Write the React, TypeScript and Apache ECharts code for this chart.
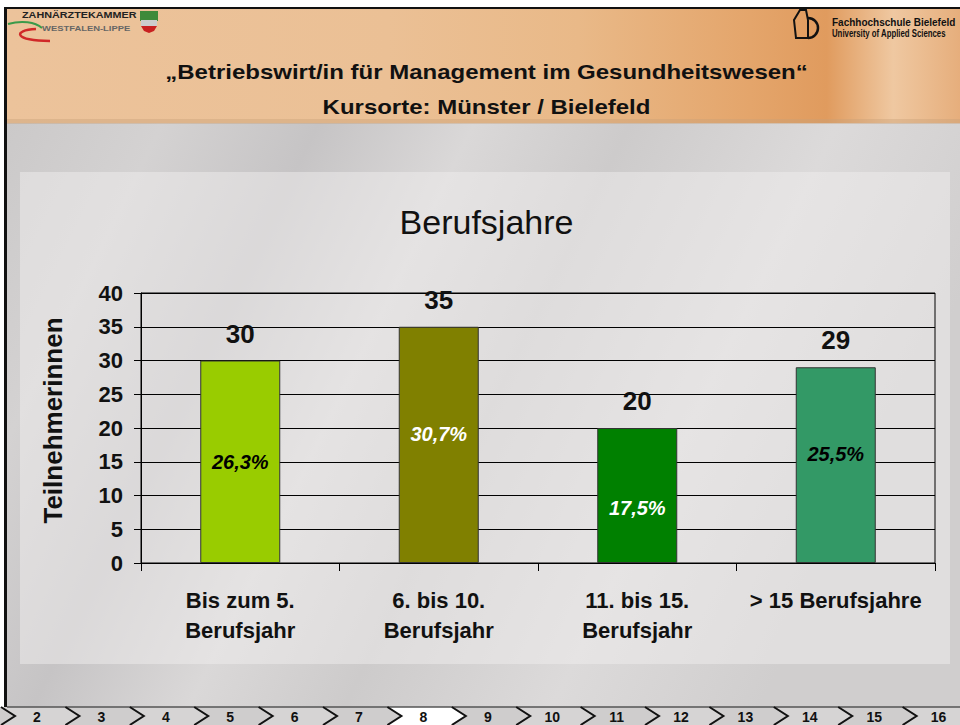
import React, { useEffect, useRef } from "react";
import * as echarts from "echarts";

const categories = ["Bis zum 5.\nBerufsjahr", "6. bis 10.\nBerufsjahr", "11. bis 15.\nBerufsjahr", "> 15 Berufsjahre"];
const counts = [30, 35, 20, 29];
const percentLabels = ["26,3%", "30,7%", "17,5%", "25,5%"];
const navNumbers = ["2", "3", "4", "5", "6", "7", "8", "9", "10", "11", "12", "13", "14", "15", "16"];
const currentPage = "8";
const headerLine1 = "\u201EBetriebswirt/in f\u00FCr Management im Gesundheitswesen\u201C";
const headerLine2 = "Kursorte: M\u00FCnster / Bielefeld";
const chartTitle = "Berufsjahre";
const yAxisTitle = "Teilnehmerinnen";

const barColors = ["#99CC00", "#808000", "#008000", "#339966"];
const pctColors = ["#000000", "#ffffff", "#ffffff", "#000000"];
const pctOffsets = [0, -11, 12, -11];

const FONT = "'Liberation Sans', Arial, sans-serif";
const NARROW = "'Liberation Sans Narrow', 'Arial Narrow', 'Liberation Sans', Arial, sans-serif";

function buildGraphics(): any[] {
  const g: any[] = [];
  g.push({ type: "rect", z: -20, shape: { x: 0, y: 0, width: 960, height: 725 }, style: { fill: "#ffffff" } });
  // gray background
  g.push({
    type: "rect", z: -19, shape: { x: 7, y: 123, width: 953, height: 584 },
    style: {
      fill: new echarts.graphic.LinearGradient(0, 0, 1, 0.3, [
        { offset: 0, color: "#CBC9C9" },
        { offset: 0.15, color: "#D4D2D2" },
        { offset: 0.3, color: "#C6C4C5" },
        { offset: 0.45, color: "#DAD8D8" },
        { offset: 0.6, color: "#CDCBCB" },
        { offset: 0.8, color: "#DCDADA" },
        { offset: 1, color: "#D0CECE" },
      ]),
    },
  });
  // lighter chart panel
  g.push({
    type: "rect", z: -18, shape: { x: 20, y: 172, width: 930, height: 492 },
    style: { fill: "rgba(240,238,238,0.5)" },
  });
  // header band
  g.push({
    type: "rect", z: -17, shape: { x: 7, y: 9, width: 953, height: 114 },
    style: {
      fill: new echarts.graphic.LinearGradient(0, 0, 1, 0, [
        { offset: 0, color: "#ECC39B" },
        { offset: 0.4, color: "#EBC095" },
        { offset: 0.6, color: "#E9B988" },
        { offset: 0.78, color: "#E4A56B" },
        { offset: 0.86, color: "#E09B5E" },
        { offset: 0.93, color: "#EFC8A1" },
        { offset: 1, color: "#E6AE7C" },
      ]),
    },
  });
  g.push({ type: "rect", z: -16, shape: { x: 7, y: 119, width: 953, height: 5 }, style: { fill: "rgba(200,160,120,0.4)" } });
  // borders
  g.push({ type: "rect", z: 5, shape: { x: 4, y: 7, width: 956, height: 2 }, style: { fill: "#111111" } });
  g.push({ type: "rect", z: 5, shape: { x: 4, y: 7, width: 3, height: 718 }, style: { fill: "#111111" } });

  // header texts
  g.push({
    type: "text", z: 10, x: 486.5, y: 72, scaleX: 1.2,
    style: { text: headerLine1, x: 0, y: 0, align: "center", verticalAlign: "middle", fill: "#111", fontFamily: FONT, fontWeight: "bold", fontSize: 20 },
  });
  g.push({
    type: "text", z: 10, x: 486.5, y: 107, scaleX: 1.2,
    style: { text: headerLine2, x: 0, y: 0, align: "center", verticalAlign: "middle", fill: "#111", fontFamily: FONT, fontWeight: "bold", fontSize: 20 },
  });

  // left logo
  g.push({
    type: "text", z: 10, x: 22, y: 15, scaleX: 1.2,
    style: { text: "ZAHN\u00C4RZTEKAMMER", x: 0, y: 0, align: "left", verticalAlign: "middle", fill: "#222", fontFamily: FONT, fontWeight: "bold", fontSize: 9 },
  });
  g.push({
    type: "text", z: 10, x: 42, y: 29, scaleX: 1.45,
    style: { text: "WESTFALEN-LIPPE", x: 0, y: 0, align: "left", verticalAlign: "middle", fill: "#666", fontFamily: FONT, fontWeight: "bold", fontSize: 6.5 },
  });
  g.push({ type: "bezierCurve", z: 10, shape: { x1: 8, y1: 24, x2: 42, y2: 28, cpx1: 22, cpy1: 20, cpx2: 35, cpy2: 22 }, style: { stroke: "#3a9a4a", lineWidth: 2, fill: "none" } });
  g.push({ type: "bezierCurve", z: 10, shape: { x1: 36, y1: 29, x2: 50, y2: 41, cpx1: 12, cpy1: 30, cpx2: 14, cpy2: 41 }, style: { stroke: "#d02828", lineWidth: 2.5, fill: "none" } });
  g.push({ type: "rect", z: 10, shape: { x: 140, y: 11, width: 18, height: 10 }, style: { fill: "#3d8a3a" } });
  g.push({ type: "rect", z: 10, shape: { x: 141, y: 20, width: 16, height: 6 }, style: { fill: "#cccccc" } });
  g.push({ type: "polygon", z: 10, shape: { points: [[141, 26], [157, 26], [154, 31], [149, 33], [144, 31]] }, style: { fill: "#c82020" } });

  // right logo
  g.push({ type: "polyline", z: 10, shape: { points: [[800, 38], [796, 38], [794, 20], [800, 10], [806, 10], [808, 20]] }, style: { stroke: "#111", lineWidth: 2, fill: "none" } });
  g.push({ type: "arc", z: 10, shape: { cx: 808, cy: 28, r: 10, startAngle: -Math.PI / 2, endAngle: Math.PI / 2 }, style: { stroke: "#111", lineWidth: 2.5, fill: "none" } });
  g.push({ type: "line", z: 10, shape: { x1: 808, y1: 20, x2: 808, y2: 38 }, style: { stroke: "#111", lineWidth: 2 } });
  g.push({ type: "line", z: 10, shape: { x1: 800, y1: 38, x2: 808, y2: 38 }, style: { stroke: "#111", lineWidth: 2 } });
  g.push({
    type: "text", z: 10, x: 832, y: 22,
    style: { text: "Fachhochschule Bielefeld", x: 0, y: 0, align: "left", verticalAlign: "middle", fill: "#111", fontFamily: FONT, fontWeight: "bold", fontSize: 10 },
  });
  g.push({
    type: "text", z: 10, x: 832, y: 34, scaleX: 0.78,
    style: { text: "University of Applied Sciences", x: 0, y: 0, align: "left", verticalAlign: "middle", fill: "#111", fontFamily: FONT, fontWeight: "bold", fontSize: 10 },
  });

  // chart title
  g.push({
    type: "text", z: 10, x: 486.5, y: 222,
    style: { text: chartTitle, x: 0, y: 0, align: "center", verticalAlign: "middle", fill: "#111", fontFamily: FONT, fontSize: 34 },
  });
  // y axis title
  g.push({
    type: "text", z: 10, x: 53, y: 420.5, rotation: Math.PI / 2,
    style: { text: yAxisTitle, x: 0, y: 0, align: "center", verticalAlign: "middle", fill: "#111", fontFamily: FONT, fontWeight: "bold", fontSize: 26 },
  });

  // bottom navigation strip
  const step = 64.4;
  const tip0 = 15;
  g.push({ type: "rect", z: 4, shape: { x: 7, y: 707, width: 953, height: 18 }, style: { fill: "#D3D1D1" } });
  for (let k = -1; k < navNumbers.length; k++) {
    const a = tip0 + step * k;
    const b = tip0 + step * (k + 1);
    const isCur = k >= 0 && navNumbers[k] === currentPage;
    g.push({
      type: "polygon", z: 5,
      shape: { points: [[a - 14, 707], [a, 716], [a - 14, 725], [b - 14, 725], [b, 716], [b - 14, 707]] },
      style: { fill: isCur ? "#ffffff" : (k % 2 === 0 ? "#D6D4D4" : "#CFCDCD") },
    });
  }
  g.push({ type: "line", z: 6, shape: { x1: 7, y1: 707, x2: 960, y2: 707 }, style: { stroke: "#555", lineWidth: 1.5 } });
  for (let k = 0; k < navNumbers.length; k++) {
    const t = tip0 + step * k;
    g.push({ type: "polyline", z: 7, shape: { points: [[t - 14, 707], [t, 716], [t - 14, 725]] }, style: { stroke: "#111", lineWidth: 2, fill: "none" } });
    g.push({
      type: "text", z: 8, x: 37 + step * k, y: 717,
      style: { text: navNumbers[k], x: 0, y: 0, align: "center", verticalAlign: "middle", fill: "#111", fontFamily: FONT, fontWeight: "bold", fontSize: 14 },
    });
  }
  return g;
}

export default function App() {
  const ref = useRef<HTMLDivElement>(null);
  useEffect(() => {
    if (!ref.current) return;
    const chart = echarts.init(ref.current, null, { renderer: "svg" });
    const option: any = {
      animation: false,
      backgroundColor: "transparent",
      graphic: { elements: buildGraphics() },
      grid: { left: 141, right: 25, top: 293, bottom: 162, show: true, borderColor: "#000", borderWidth: 1, backgroundColor: "transparent", z: 1 },
      xAxis: {
        type: "category",
        data: categories,
        axisLine: { lineStyle: { color: "#000", width: 1 } },
        axisTick: { show: true, length: 8, alignWithLabel: false, interval: 0, lineStyle: { color: "#000" } },
        axisLabel: { interval: 0, margin: 22, color: "#111", fontFamily: FONT, fontWeight: "bold", fontSize: 22, lineHeight: 30 },
        splitLine: { show: false },
      },
      yAxis: {
        type: "value",
        min: 0,
        max: 40,
        interval: 5,
        axisLine: { show: true, lineStyle: { color: "#000", width: 1 } },
        axisTick: { show: true, length: 7, lineStyle: { color: "#000" } },
        axisLabel: { margin: 18, color: "#111", fontFamily: FONT, fontWeight: "bold", fontSize: 22 },
        splitLine: { show: true, lineStyle: { color: "#000", width: 1 } },
      },
      series: [
        {
          type: "bar",
          barWidth: 80,
          z: 3,
          data: counts.map((v, i) => ({
            value: v,
            itemStyle: { color: barColors[i], borderColor: "#333", borderWidth: 1 },
            label: {
              show: true,
              position: "inside",
              offset: [0, pctOffsets[i]],
              formatter: () => percentLabels[i],
              color: pctColors[i],
              fontFamily: NARROW,
              fontStyle: "italic",
              fontWeight: "bold",
              fontSize: 20,
            },
          })),
        },
        {
          type: "bar",
          barWidth: 80,
          barGap: "-100%",
          z: 4,
          itemStyle: { color: "rgba(0,0,0,0)" },
          label: {
            show: true,
            position: "top",
            distance: 14,
            color: "#111",
            fontFamily: FONT,
            fontWeight: "bold",
            fontSize: 26,
          },
          data: counts,
        },
      ],
    };
    chart.setOption(option);
    return () => chart.dispose();
  }, []);
  return <div ref={ref} style={{ position: "absolute", left: 0, top: 0, width: 960, height: 725 }} />;
}
